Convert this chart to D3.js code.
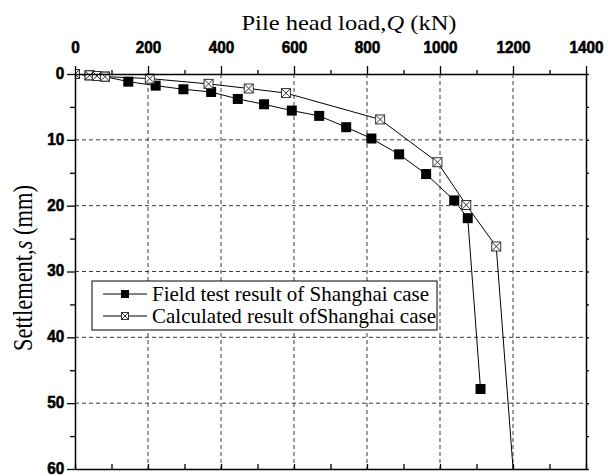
<!DOCTYPE html>
<html>
<head>
<meta charset="utf-8">
<script src="https://cdn.jsdelivr.net/npm/d3@7"></script>
<style>
  body { margin: 0; background: #fff; }
</style>
</head>
<body>
<svg id="chart" width="608" height="476"></svg>
<script>
// valeurs
const fieldLoad   = [0, 40, 82, 146, 221, 297, 373, 446, 518, 594, 669, 743, 812, 888, 962, 1039, 1076, 1111];
const fieldSettle = [0, 0.2, 0.4, 1.16, 1.77, 2.32, 2.73, 3.79, 4.6, 5.56, 6.36, 8.08, 9.8, 12.2, 15.2, 19.2, 21.9, 47.85];

const calcLoad   = [0, 40, 60, 82, 205, 366, 476, 578, 836, 993, 1072, 1154, 1203];
const calcSettle = [0, 0.2, 0.3, 0.4, 0.7, 1.5, 2.2, 2.9, 6.9, 13.4, 19.9, 26.2, 62];

const loadTicks   = [0, 200, 400, 600, 800, 1000, 1200, 1400];
const loadMinor   = [100, 300, 500, 700, 900, 1100, 1300];
const settleTicks = [0, 10, 20, 30, 40, 50, 60];
const settleMinor = [5, 15, 25, 35, 45, 55];

const seriesNames = ["Field test result of Shanghai case", "Calculated result ofShanghai case"];

const SERIF = "'Liberation Serif', 'Times New Roman', serif";
const SANS = "'Liberation Sans', Arial, sans-serif";

const svg = d3.select("#chart");

const plotLeft = 75, plotRight = 586, plotTop = 74, plotBottom = 469;

const x = d3.scaleLinear().domain([0, 1400]).range([plotLeft, plotRight]);
const y = d3.scaleLinear().domain([0, 60]).range([plotTop, plotBottom]);

// grille en pointillés
const grid = svg.append("g").attr("stroke", "#3a3a3a").attr("stroke-width", 1).attr("stroke-dasharray", "4,3");
grid.selectAll(".vg").data(loadTicks.slice(1, -1)).enter().append("line")
    .attr("x1", d => x(d)).attr("x2", d => x(d))
    .attr("y1", plotTop).attr("y2", plotBottom);
grid.selectAll(".hg").data(settleTicks.slice(1, -1)).enter().append("line")
    .attr("y1", d => y(d)).attr("y2", d => y(d))
    .attr("x1", plotLeft).attr("x2", plotRight);

// zone de tracé
svg.append("defs").append("clipPath").attr("id", "plot-clip")
    .append("rect").attr("x", plotLeft).attr("y", plotTop - 6)
    .attr("width", plotRight - plotLeft).attr("height", plotBottom - plotTop + 6);

const plot = svg.append("g").attr("clip-path", "url(#plot-clip)");

const line = d3.line().x(d => x(d[0])).y(d => y(d[1]));

const fieldPts = fieldLoad.map((q, i) => [q, fieldSettle[i]]);
const calcPts = calcLoad.map((q, i) => [q, calcSettle[i]]);

plot.append("path").datum(calcPts).attr("d", line)
    .attr("fill", "none").attr("stroke", "#000").attr("stroke-width", 1);
plot.append("path").datum(fieldPts).attr("d", line)
    .attr("fill", "none").attr("stroke", "#000").attr("stroke-width", 1);

function crossBox(g, cx, cy, s) {
    g.append("rect").attr("x", cx - s / 2).attr("y", cy - s / 2)
        .attr("width", s).attr("height", s)
        .attr("fill", "#fff").attr("stroke", "#333").attr("stroke-width", 1);
    g.append("path")
        .attr("d", `M${cx - s / 2},${cy - s / 2}L${cx + s / 2},${cy + s / 2}M${cx + s / 2},${cy - s / 2}L${cx - s / 2},${cy + s / 2}`)
        .attr("stroke", "#333").attr("stroke-width", 1);
}

plot.selectAll(".fm").data(fieldPts).enter().append("rect")
    .attr("x", d => x(d[0]) - 5).attr("y", d => y(d[1]) - 5)
    .attr("width", 10).attr("height", 10).attr("fill", "#000");

calcPts.forEach(d => crossBox(plot, x(d[0]), y(d[1]), 9));

// axes
function styleAxis(g) {
    g.selectAll("path.domain").attr("stroke", "#000").attr("stroke-width", 1.5);
    g.selectAll(".tick line").attr("stroke", "#000").attr("stroke-width", 1.3);
    g.selectAll(".tick text")
        .style("font-family", SANS).style("font-weight", "700").style("font-size", "17px")
        .style("fill", "#000").style("stroke", "#000").style("stroke-width", "0.6px");
}

const topAxis = svg.append("g").attr("transform", `translate(0,${plotTop})`)
    .call(d3.axisTop(x).tickValues(loadTicks).tickSize(8).tickSizeOuter(0).tickPadding(13).tickFormat(d3.format("d")));
styleAxis(topAxis);
topAxis.selectAll(".tick text").attr("transform", "scale(0.9,1)");

svg.append("g").attr("transform", `translate(0,${plotTop})`)
    .call(d3.axisTop(x).tickValues(loadMinor).tickSize(4).tickFormat(""))
    .call(g => { g.select(".domain").remove(); styleAxis(g); });

const leftAxis = svg.append("g").attr("transform", `translate(${plotLeft},0)`)
    .call(d3.axisLeft(y).tickValues(settleTicks).tickSize(8).tickSizeOuter(0).tickPadding(4).tickFormat(d3.format("d")));
styleAxis(leftAxis);
leftAxis.selectAll(".tick text").attr("transform", "scale(0.9,1)").attr("dy", "0.26em");

svg.append("g").attr("transform", `translate(${plotLeft},0)`)
    .call(d3.axisLeft(y).tickValues(settleMinor).tickSize(5).tickFormat(""))
    .call(g => { g.select(".domain").remove(); styleAxis(g); });

svg.append("g").attr("transform", `translate(0,${plotBottom})`)
    .call(d3.axisBottom(x).tickValues(loadTicks.concat(loadMinor)).tickSizeInner(-5).tickSizeOuter(0).tickFormat(""))
    .call(styleAxis);

svg.append("g").attr("transform", `translate(${plotRight},0)`)
    .call(d3.axisRight(y).tickValues(settleTicks.concat(settleMinor)).tickSizeInner(3).tickSizeOuter(0).tickFormat(""))
    .call(styleAxis);

// titres
const title = svg.append("text")
    .attr("transform", "translate(349,30) scale(1.14,1)")
    .attr("text-anchor", "middle")
    .style("font-family", SERIF).style("font-size", "21.5px").style("fill", "#000");
title.append("tspan").text("Pile head load,");
title.append("tspan").style("font-style", "italic").text("Q");
title.append("tspan").text(" (kN)");

const ylab = svg.append("text")
    .attr("transform", "translate(32,268) rotate(-90) scale(1,1.25)")
    .attr("text-anchor", "middle")
    .style("font-family", SERIF).style("font-size", "22.5px").style("fill", "#000");
ylab.append("tspan").text("Settlement,");
ylab.append("tspan").style("font-style", "italic").text("s");
ylab.append("tspan").text(" (mm)");

// légende
const legend = svg.append("g");
legend.append("rect").attr("x", 92).attr("y", 281).attr("width", 345).attr("height", 49)
    .attr("fill", "#fff").attr("stroke", "#000").attr("stroke-width", 1);

const rowY = [294, 316];
seriesNames.forEach((name, i) => {
    const ry = rowY[i];
    legend.append("line").attr("x1", 103).attr("x2", 147).attr("y1", ry).attr("y2", ry)
        .attr("stroke", "#000").attr("stroke-width", 1);
    if (i === 0) {
        legend.append("rect").attr("x", 121).attr("y", ry - 4).attr("width", 8).attr("height", 8).attr("fill", "#000");
    } else {
        crossBox(legend, 125, ry, 7);
    }
    legend.append("text").attr("x", 152).attr("y", ry + 7)
        .style("font-family", SERIF).style("font-size", "21px").style("fill", "#000")
        .text(name);
});
</script>
</body>
</html>
